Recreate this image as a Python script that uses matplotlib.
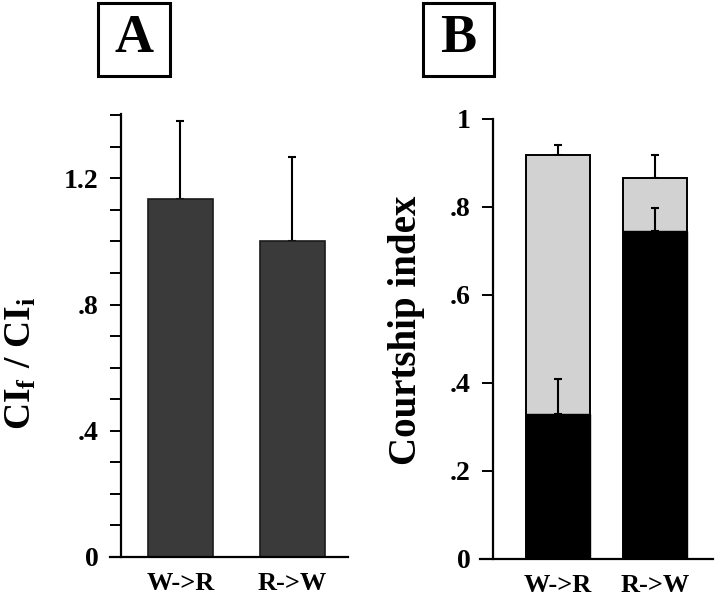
import matplotlib
matplotlib.use("Agg")
from matplotlib import pyplot as plt
from matplotlib.patches import Rectangle
from matplotlib.ticker import MultipleLocator, FixedLocator

plt.rcParams['font.family'] = ['Liberation Serif', 'DejaVu Serif']
plt.rcParams['font.weight'] = 'bold'
plt.rcParams['mathtext.fontset'] = 'custom'
plt.rcParams['mathtext.rm'] = 'Liberation Serif:bold'
plt.rcParams['mathtext.bf'] = 'Liberation Serif:bold'
plt.rcParams['mathtext.it'] = 'Liberation Serif:bold'

groups = ['W->R', 'R->W']

# panel A: CIf / CIi
ratio = [1.134, 1.0]
ratio_err = [0.249, 0.267]

# panel B: courtship index, stacked
ci_black = [0.33, 0.745]
ci_black_err = [0.078, 0.053]
ci_total = [0.918, 0.867]
ci_total_err = [0.023, 0.051]

W, H = 720, 598
fig = plt.figure(figsize=(W / 100, H / 100), dpi=100)


def px_axes(x0, x1, ytop, ybot):
    return fig.add_axes([x0 / W, 1 - ybot / H, (x1 - x0) / W, (ybot - ytop) / H])


def style(ax, spine_x):
    for s in ['top', 'right']:
        ax.spines[s].set_visible(False)
    ax.spines['left'].set_position(('data', spine_x))
    for s in ['left', 'bottom']:
        ax.spines[s].set_linewidth(1.6)
    ax.tick_params(axis='y', which='both', direction='out', length=8, width=1.4,
                   pad=8, labelsize=20)
    ax.tick_params(axis='x', length=0, pad=11, labelsize=19)
    ax.set_xticks(range(len(groups)))
    ax.set_xticklabels(groups, fontweight='bold')


def fmt(v):
    if v == 0:
        return '0'
    s = ('%g' % round(v, 2))
    return s[1:] if s.startswith('0.') else s


# ---- panel A
axA = px_axes(110, 348, 114, 557)
axA.bar(range(2), ratio, width=0.58, color='#3a3a3a', edgecolor='#1a1a1a', linewidth=1.2, zorder=2)
axA.errorbar(range(2), ratio, yerr=[[0, 0], ratio_err], fmt='none', ecolor='black',
             elinewidth=1.5, capsize=3, capthick=1.5, zorder=1)
axA.set_xlim(-0.629, 1.496)
axA.set_ylim(0, 1.404)
style(axA, -0.531)
axA.yaxis.set_major_locator(FixedLocator([0, 0.4, 0.8, 1.2]))
axA.yaxis.set_minor_locator(MultipleLocator(0.1))
axA.set_yticklabels([fmt(v) for v in [0, 0.4, 0.8, 1.2]], fontweight='bold')
axA.set_ylabel(r'$\mathbf{CI_f\ /\ CI_i}$', fontsize=27)
axA.yaxis.set_label_coords(-0.30, 0.438)

# ---- panel B
axB = px_axes(480, 713, 119, 559)
axB.bar(range(2), ci_total, width=0.66, color='#d2d2d2', edgecolor='black', linewidth=1.4, zorder=2)
axB.bar(range(2), ci_black, width=0.66, color='black', edgecolor='black', linewidth=1.0, zorder=3)
axB.errorbar(range(2), ci_total, yerr=[[0, 0], ci_total_err], fmt='none', ecolor='black',
             elinewidth=1.5, capsize=3, capthick=1.5, zorder=1)
axB.errorbar(range(2), ci_black, yerr=[[0, 0], ci_black_err], fmt='none', ecolor='black',
             elinewidth=1.5, capsize=3, capthick=1.5, zorder=4)
axB.set_xlim(-0.80, 1.592)
axB.set_ylim(0, 1.0)
style(axB, -0.669)
b_ticks = [0, 0.2, 0.4, 0.6, 0.8, 1.0]
axB.set_yticks(b_ticks)
axB.set_yticklabels([fmt(v) for v in b_ticks], fontweight='bold')
axB.set_ylabel('Courtship index', fontsize=28, fontweight='bold')
axB.yaxis.set_label_coords(-0.235, 0.52)

# ---- boxed panel letters
for letter, (bx0, bx1) in zip(['A', 'B'], [(98, 170), (423, 494)]):
    by0, by1 = 3, 76
    fig.add_artist(Rectangle((bx0 / W, 1 - by1 / H), (bx1 - bx0) / W, (by1 - by0) / H,
                             transform=fig.transFigure, fill=False, edgecolor='black', linewidth=2.2))
    fig.text((bx0 + bx1) / 2 / W, 1 - (by0 + by1) / 2 / H, letter, ha='center', va='center',
             fontsize=39, fontweight='bold')

fig.savefig('out.png', dpi=100)
